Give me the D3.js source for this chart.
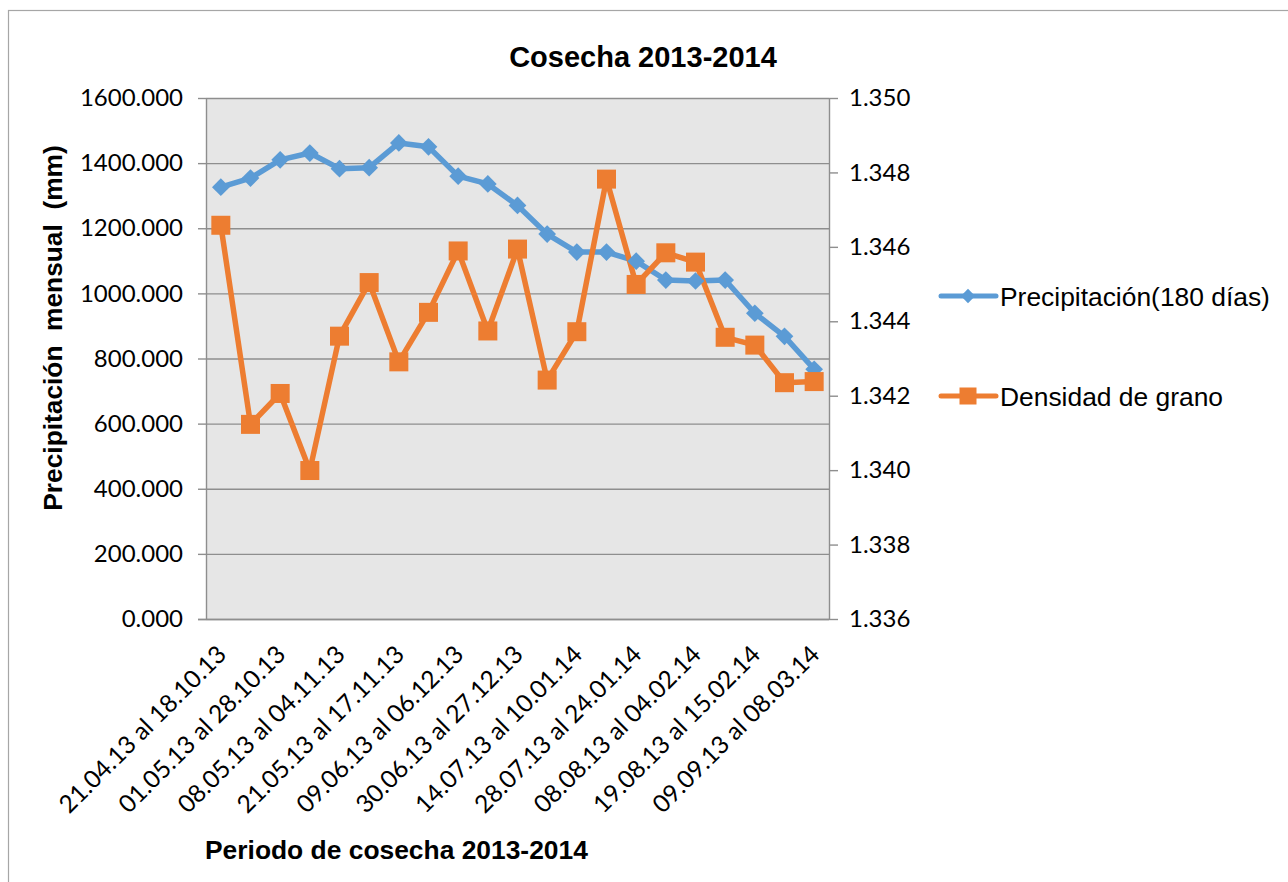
<!DOCTYPE html>
<html><head><meta charset="utf-8">
<script src="https://cdn.jsdelivr.net/npm/d3@7"></script>
<style>
body{margin:0;background:#fff;}
svg text{white-space:pre;}
</style></head>
<body><svg id="c" width="1288" height="882"></svg>
<script>
const categories = [
 "21.04.13 al 18.10.13","26.04.13 al 23.10.13","01.05.13 al 28.10.13","04.05.13 al 31.10.13",
 "08.05.13 al 04.11.13","14.05.13 al 10.11.13","21.05.13 al 17.11.13","30.05.13 al 26.11.13",
 "09.06.13 al 06.12.13","20.06.13 al 17.12.13","30.06.13 al 27.12.13","07.07.13 al 03.01.14",
 "14.07.13 al 10.01.14","21.07.13 al 17.01.14","28.07.13 al 24.01.14","02.08.13 al 29.01.14",
 "08.08.13 al 04.02.14","13.08.13 al 09.02.14","19.08.13 al 15.02.14","30.08.13 al 26.02.14",
 "09.09.13 al 08.03.14"];
const precipitacion = [1326,1354,1410,1431,1383,1386,1462,1450,1360,1336,1270,1182,1127,1127,1099,1041,1038,1041,939,868,767];
const densidad = [1.34658,1.34123,1.34206,1.33999,1.34360,1.34504,1.34291,1.34424,1.34589,1.34374,1.34594,1.34242,1.34372,1.34782,1.34499,1.34584,1.34559,1.34357,1.34336,1.34235,1.34238];
const leftTicks = [0,200,400,600,800,1000,1200,1400,1600];
const rightTicks = [1.336,1.338,1.340,1.342,1.344,1.346,1.348,1.350];
const seriesNames = ["Precipitación(180 días)","Densidad de grano"];
const titleText = "Cosecha 2013-2014";
const xTitle = "Periodo de cosecha 2013-2014";
const yTitle = "Precipitación  mensual  (mm)";

const svg = d3.select("#c");
const L=206,R=829,T=98,B=619;
const blue="#5B9BD5", orange="#ED7D31", gridC="#8e8e8e";

// outer frame
svg.append("rect").attr("x",8.5).attr("y",10.5).attr("width",1400).attr("height",1000)
  .attr("fill","none").attr("stroke","#a6a6a6").attr("stroke-width",1.2);

const x = d3.scaleBand().domain(categories).range([L,R]).padding(0);
const cx = d => x(d)+x.bandwidth()/2;
const yL = d3.scaleLinear().domain([0,1600]).range([B,T]);
const yR = d3.scaleLinear().domain([1.336,1.350]).range([B,T]);

svg.append("rect").attr("x",L).attr("y",T).attr("width",R-L).attr("height",B-T).attr("fill","#e6e6e6");

// grid
const grid = svg.append("g").attr("transform",`translate(${L},0)`)
  .call(d3.axisLeft(yL).tickValues(leftTicks).tickSize(-(R-L)).tickFormat(""));
grid.select(".domain").remove();
grid.selectAll("line").attr("stroke",gridC).attr("stroke-width",1.4);

// left axis
const ax = svg.append("g").attr("transform",`translate(${L},0)`)
  .call(d3.axisLeft(yL).tickValues(leftTicks).tickSize(8).tickPadding(15).tickFormat(d3.format(".3f")));
ax.select(".domain").attr("stroke",gridC).attr("stroke-width",1.4).attr("d",`M0.5,${T}V${B}`);
ax.selectAll("line").attr("stroke",gridC).attr("stroke-width",1.4);
ax.selectAll("text").attr("font-family","Lato").attr("font-size",24).attr("fill","#000");

// right axis
const ar = svg.append("g").attr("transform",`translate(${R},0)`)
  .call(d3.axisRight(yR).tickValues(rightTicks).tickSize(9).tickPadding(11).tickFormat(d3.format(".3f")));
ar.select(".domain").attr("stroke",gridC).attr("stroke-width",1.4).attr("d",`M0.5,${T}V${B}`);
ar.selectAll("line").attr("stroke",gridC).attr("stroke-width",1.4);
ar.selectAll("text").attr("font-family","Lato").attr("font-size",24).attr("fill","#000");

// bottom axis
const ab = svg.append("g").attr("transform",`translate(0,${B})`)
  .call(d3.axisBottom(x).tickSize(0).tickFormat((d,i)=> i%2===0 ? d : ""));
ab.select(".domain").attr("stroke",gridC).attr("stroke-width",1.4).attr("d",`M${L-8},0.5H${R}`);
ab.selectAll(".tick text").attr("font-family","Lato").attr("font-size",24.5).attr("fill","#000")
  .attr("text-anchor","end").attr("dy",0).attr("y",0)
  .attr("transform","translate(7,37) rotate(-45)");

// lines
const lineP = d3.line().x((d,i)=>cx(categories[i])).y(d=>yL(d));
const lineD = d3.line().x((d,i)=>cx(categories[i])).y(d=>yR(d));
svg.append("path").datum(precipitacion).attr("d",lineP).attr("fill","none").attr("stroke",blue).attr("stroke-width",5.5).attr("stroke-linejoin","round");
svg.append("path").datum(densidad).attr("d",lineD).attr("fill","none").attr("stroke",orange).attr("stroke-width",5.5).attr("stroke-linejoin","round");

const dia = d3.symbol().type(d3.symbolDiamond2).size(200);
svg.append("g").selectAll("path").data(precipitacion).join("path")
  .attr("d",dia).attr("transform",(d,i)=>`translate(${cx(categories[i])},${yL(d)})`).attr("fill",blue);
svg.append("g").selectAll("rect").data(densidad).join("rect")
  .attr("x",(d,i)=>cx(categories[i])-9.5).attr("y",d=>yR(d)-9.5).attr("width",19).attr("height",19).attr("fill",orange);

// titles
svg.append("text").attr("x",643).attr("y",67).attr("text-anchor","middle").attr("font-family","Liberation Sans, Arial")
  .attr("font-weight","bold").attr("font-size",29).text(titleText);
svg.append("text").attr("x",205).attr("y",859).attr("font-family","Liberation Sans, Arial")
  .attr("font-weight","bold").attr("font-size",26.4).text(xTitle);
svg.append("text").attr("transform","translate(62,328) rotate(-90)").attr("text-anchor","middle").attr("font-family","Liberation Sans, Arial")
  .attr("font-weight","bold").attr("font-size",26.3).text(yTitle);

// legend
const lg = svg.append("g");
const legY = [296,396];
seriesNames.forEach((n,i)=>{
  const g = lg.append("g").attr("transform",`translate(0,${legY[i]})`);
  g.append("line").attr("x1",941).attr("x2",996).attr("y1",0).attr("y2",0)
    .attr("stroke",i===0?blue:orange).attr("stroke-width",5).attr("stroke-linecap","round");
  if(i===0) g.append("path").attr("d",d3.symbol().type(d3.symbolDiamond2).size(130)).attr("transform","translate(968,0)").attr("fill",blue);
  else g.append("rect").attr("x",959.5).attr("y",-8.5).attr("width",17).attr("height",17).attr("fill",orange);
  g.append("text").attr("x",1000).attr("y",9.5).attr("font-family","Liberation Sans, Arial").attr("font-size",26.4).text(n);
});
</script></body></html>
